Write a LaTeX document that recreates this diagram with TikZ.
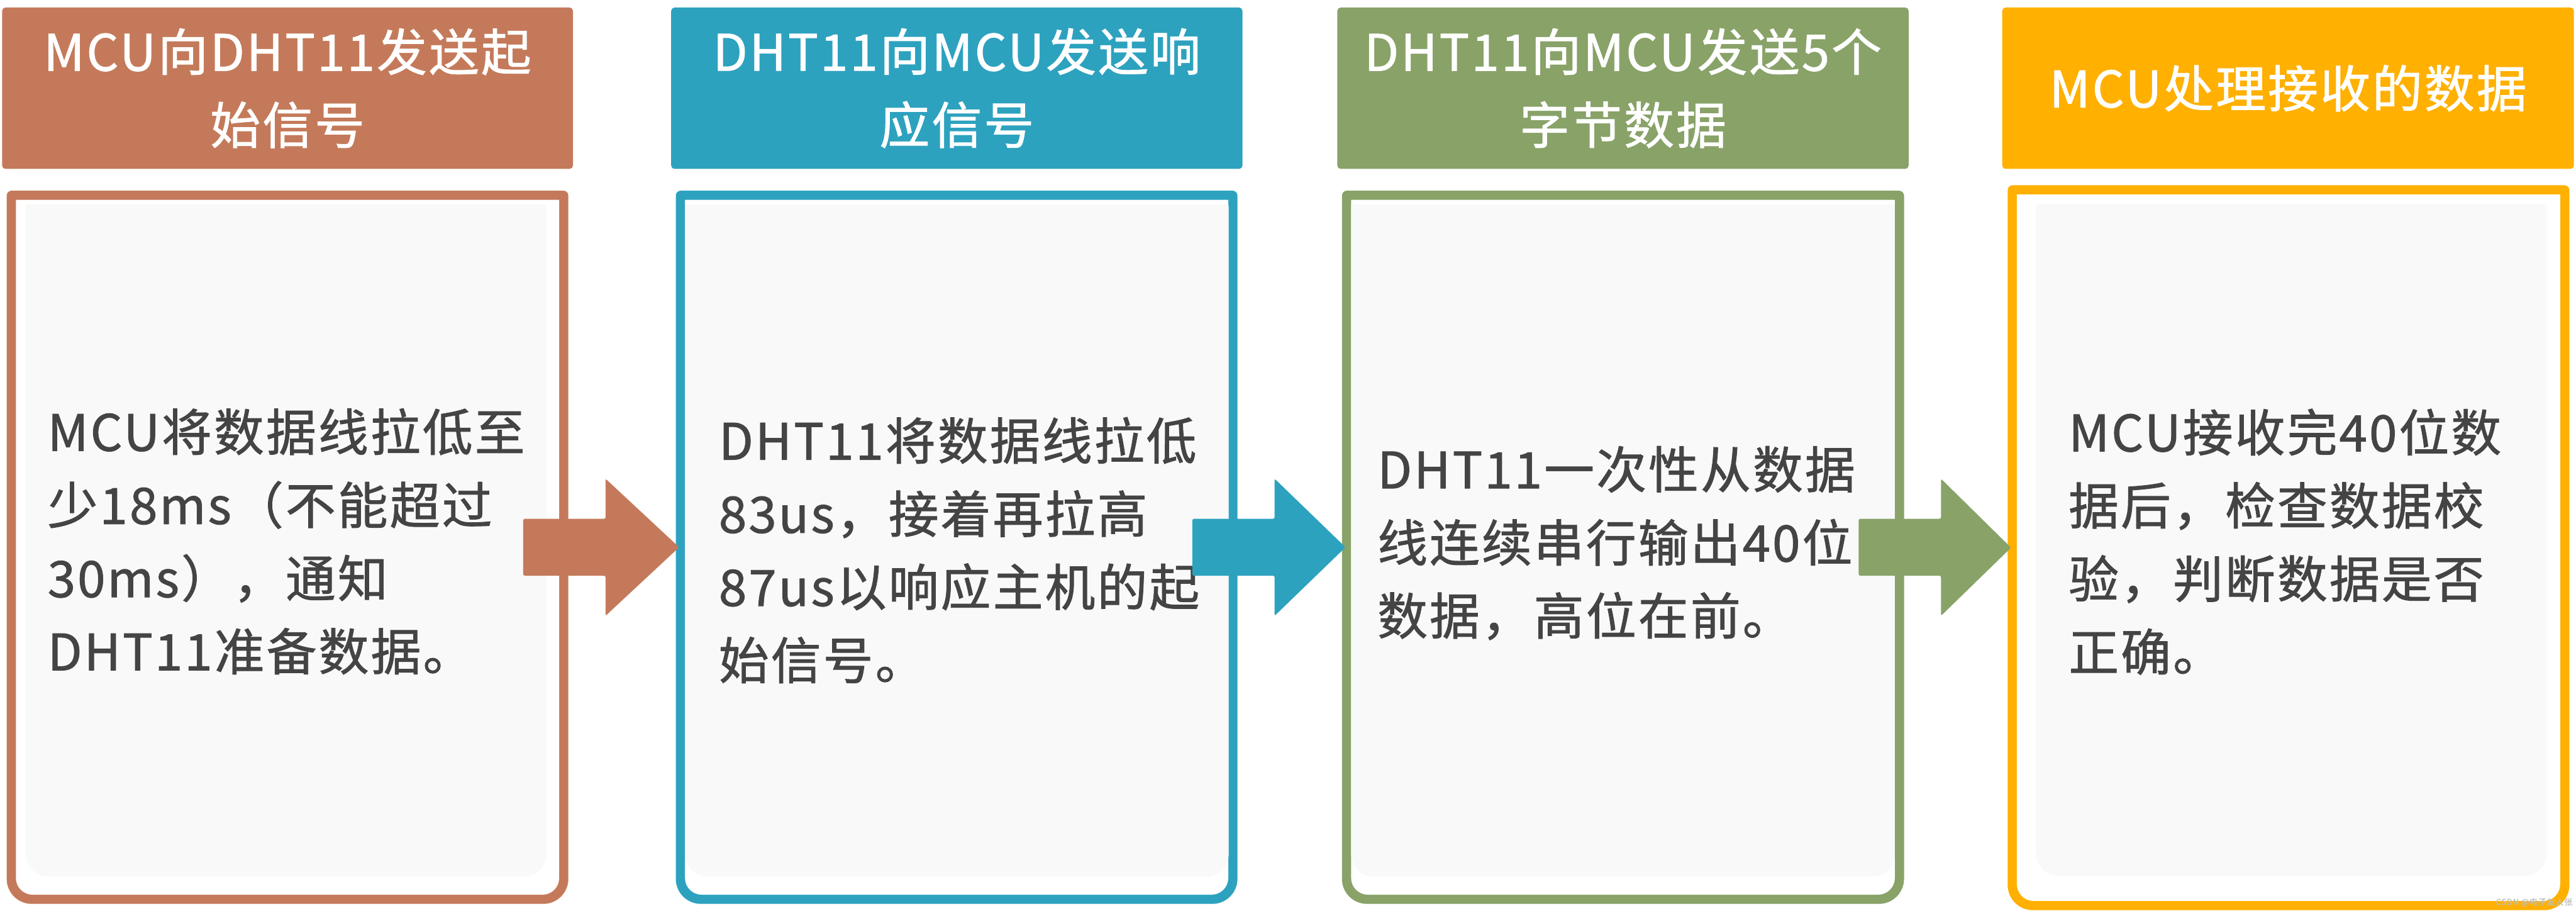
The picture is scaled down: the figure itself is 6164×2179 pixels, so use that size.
\documentclass[tikz,border=0pt]{standalone}
\usepackage{fontspec}
\setmainfont{Noto Sans CJK SC}[LetterSpace=4, FakeBold=1.2]
\usetikzlibrary{calc}
\definecolor{cbrown}{HTML}{C47A5A}
\definecolor{cblue}{HTML}{2DA2BF}
\definecolor{cgreen}{HTML}{88A268}
\definecolor{corange}{HTML}{FFB000}
\definecolor{ctext}{HTML}{444444}
\definecolor{cpanel}{HTML}{F9F9F9}
\newcommand\bodyframe[5]{%
  \fill[#5] (#1,{(#2+#4)/2}) [rounded corners=6pt] -- (#1,#4) -- (#3,#4) -- (#3,{(#2+#4)/2}) [rounded corners=1.2pt] -- (#3,#2) -- (#1,#2) -- cycle;
  \fill[white] (#1+22,{(#2+#4)/2}) [rounded corners=4pt] -- (#1+22,#4-22) -- (#3-22,#4-22) -- (#3-22,{(#2+#4)/2}) [sharp corners] -- (#3-22,#2+22) -- (#1+22,#2+22) -- cycle;
}
\newcommand\bodypanel[4]{%
  \fill[cpanel] (#1,{(#2+#4)/2}) [rounded corners=5.5pt] -- (#1,#4) -- (#3,#4) -- (#3,{(#2+#4)/2}) [rounded corners=0.5pt] -- (#3,#2) -- (#1,#2) -- cycle;
}
\newcommand\blockarrow[3]{%
  \fill[#3, rounded corners=0.4pt] ($(#1.east)+(-110,-68)$) -- ($(#1.east)+(87,-68)$) -- ($(#1.east)+(87,-164)$) -- ($(#2.west)+(10,0)$) -- ($(#1.east)+(87,164)$) -- ($(#1.east)+(87,68)$) -- ($(#1.east)+(-110,68)$) -- cycle;
}
\begin{document}
\begin{tikzpicture}[x=0.1pt,y=-0.1pt,
  hdr/.style={text=white, inner sep=0pt, minimum height=38.6pt, rounded corners=0.8pt, align=center, font=\fontsize{12pt}{17.5pt}\selectfont},
  bodytext/.style={text=ctext, anchor=west, align=left, inner sep=0pt, font=\fontsize{12pt}{17.5pt}\selectfont},
  bodynode/.style={draw=none, inner sep=0pt, minimum width=134.4pt}]
\useasboundingbox[fill=white] (0,0) rectangle (6164,2179);

% headers
\node[hdr, fill=cbrown, minimum width=136.6pt] (h1) at (688,211) {MCU向DHT11发送起\\始信号};
\node[hdr, fill=cblue, minimum width=136.7pt] (h2) at (2289.5,211) {DHT11向MCU发送响\\应信号};
\node[hdr, fill=cgreen, minimum width=136.7pt] (h3) at (3883.5,211) {DHT11向MCU发送5个\\字节数据};
\node[hdr, fill=corange, minimum width=136.8pt] (h4) at (5475,211) {MCU处理接收的数据};

% body frames
\bodyframe{16}{456}{1360}{2162}{cbrown}
\bodyframe{1617}{456}{2961}{2162}{cblue}
\bodyframe{3211}{456}{4556}{2162}{cgreen}
\bodyframe{4804}{443}{6148}{2177}{corange}
\bodypanel{62}{489}{1308}{2097}
\bodypanel{1639}{489}{2940}{2097}
\bodypanel{3233}{489}{4534}{2097}
\bodypanel{4871}{489}{6095}{2095}

% named body nodes
\node[bodynode, minimum height=170.6pt] (b1) at (688,1309) {};
\node[bodynode, minimum height=170.6pt] (b2) at (2289,1309) {};
\node[bodynode, minimum height=170.6pt] (b3) at (3883.5,1309) {};
\node[bodynode, minimum height=173.4pt] (b4) at (5476,1310) {};

% body texts
\node[bodytext] (t1) at (112,1295) {MCU将数据线拉低至\\少18ms（不能超过\\30ms），通知\\DHT11准备数据。};
\node[bodytext] (t2) at (1718,1316) {DHT11将数据线拉低\\83us，接着再拉高\\87us以响应主机的起\\始信号。};
\node[bodytext] (t3) at (3294,1299) {DHT11一次性从数据\\线连续串行输出40位\\数据，高位在前。};
\node[bodytext] (t4) at (4948,1296) {MCU接收完40位数\\据后，检查数据校\\验，判断数据是否\\正确。};

% arrows
\blockarrow{b1}{b2}{cbrown}
\blockarrow{b2}{b3}{cblue}
\blockarrow{b3}{b4}{cgreen}

% watermark
\node[text=black!25, inner sep=0pt, font=\fontsize{2pt}{2.4pt}\selectfont] (wm) at (6064,2158) {CSDN @电子友人张};
\end{tikzpicture}
\end{document}
